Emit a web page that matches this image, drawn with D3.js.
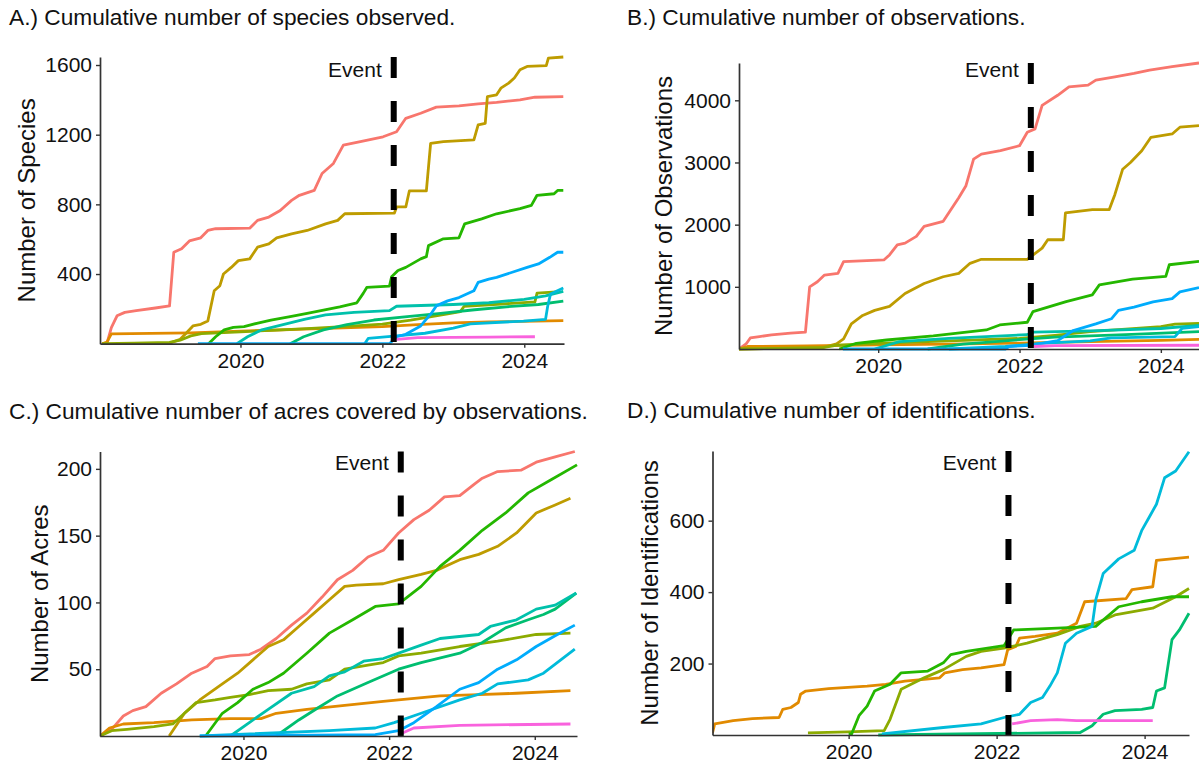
<!DOCTYPE html>
<html>
<head>
<meta charset="utf-8">
<script src="https://cdn.jsdelivr.net/npm/d3@7"></script>
<style>
  body { margin: 0; background: #fff; }
  svg { display: block; font-family: "Liberation Sans", Arial, sans-serif; }
</style>
</head>
<body>
<svg id="chart" width="1199" height="766"></svg>
<script>
// groups follow the ggplot hue palette (13 levels)
const groups = ["g01","g02","g03","g04","g05","g06","g07","g08","g09","g10","g11","g12","g13"];
const groupColors = ["#F8766D","#E18A00","#BE9C00","#8CAB00","#24B700","#00BE70","#00C1AB",
  "#00BBDA","#00ACFC","#8B93FF","#D575FE","#F962DD","#FF65AC"];

const eventYear = 2022.16;
const yearTicks = [2020, 2022, 2024];
const speciesTicks = [400, 800, 1200, 1600];
const observationTicks = [1000, 2000, 3000, 4000];
const acreTicks = [50, 100, 150, 200];
const identificationTicks = [200, 400, 600];

// [year, cumulative value]
const species = [
  ["g01", [[2018.05,0],[2018.12,5],[2018.18,92],[2018.26,160],[2018.37,180],[2018.53,190],[2018.8,205],[2019.0,217],[2019.06,525],[2019.17,545],[2019.28,590],[2019.44,608],[2019.54,650],[2019.65,660],[2020.13,663],[2020.24,708],[2020.4,727],[2020.56,765],[2020.72,823],[2020.83,852],[2021.04,880],[2021.15,977],[2021.31,1035],[2021.45,1140],[2021.69,1160],[2022.01,1188],[2022.2,1217],[2022.33,1294],[2022.54,1323],[2022.76,1358],[2023.08,1365],[2023.35,1377],[2023.61,1385],[2023.94,1400],[2024.15,1415],[2024.55,1419]]],
  ["g02", [[2018.05,0],[2018.12,10],[2018.18,56],[2019.3,62],[2020.0,72],[2021.0,85],[2022.0,98],[2022.5,110],[2023.0,120],[2023.5,125],[2024.55,132]]],
  ["g03", [[2018.6,0],[2019.0,3],[2019.15,25],[2019.22,54],[2019.33,102],[2019.44,111],[2019.54,131],[2019.63,304],[2019.71,333],[2019.76,400],[2019.87,438],[2019.97,477],[2020.13,487],[2020.24,554],[2020.4,573],[2020.51,608],[2020.72,631],[2020.94,650],[2021.2,688],[2021.37,708],[2021.47,746],[2022.17,750],[2022.2,785],[2022.33,785],[2022.38,877],[2022.62,877],[2022.68,1150],[2022.86,1160],[2023.29,1170],[2023.35,1256],[2023.45,1265],[2023.48,1419],[2023.61,1429],[2023.67,1467],[2023.78,1496],[2023.86,1525],[2023.94,1573],[2024.04,1592],[2024.31,1596],[2024.34,1640],[2024.55,1646]]],
  ["g04", [[2018.05,0],[2018.5,3],[2019.0,8],[2019.15,20],[2019.3,45],[2019.45,58],[2020.0,68],[2020.5,78],[2021.0,88],[2021.5,100],[2022.0,112],[2022.4,135],[2022.9,170],[2023.1,184],[2023.15,214],[2024.15,240],[2024.18,290],[2024.45,298]]],
  ["g05", [[2019.55,0],[2019.65,40],[2019.77,79],[2019.9,94],[2020.05,98],[2020.23,117],[2020.43,136],[2020.7,155],[2020.94,174],[2021.17,193],[2021.4,212],[2021.64,235],[2021.73,289],[2021.78,323],[2022.1,331],[2022.13,384],[2022.22,420],[2022.33,438],[2022.54,487],[2022.62,500],[2022.65,563],[2022.86,602],[2023.08,608],[2023.16,688],[2023.4,717],[2023.61,746],[2023.94,775],[2024.1,794],[2024.18,852],[2024.42,861],[2024.47,880],[2024.55,880]]],
  ["g06", [[2020.7,0],[2020.89,40],[2021.17,79],[2021.5,110],[2021.88,136],[2022.35,155],[2022.82,174],[2023.3,195],[2023.75,212],[2024.2,225],[2024.55,245]]],
  ["g07", [[2019.95,0],[2020.1,40],[2020.3,80],[2020.5,100],[2020.9,140],[2021.2,165],[2021.6,180],[2022.1,190],[2022.2,215],[2023.0,225],[2023.5,235],[2024.0,255],[2024.3,275],[2024.55,300]]],
  ["g08", [[2021.75,0],[2021.8,30],[2022.2,45],[2022.6,60],[2023.0,90],[2023.24,114],[2023.99,130],[2024.3,140],[2024.33,215],[2024.37,285],[2024.55,320]]],
  ["g09", [[2019.4,0],[2022.1,0],[2022.2,40],[2022.33,54],[2022.54,102],[2022.7,180],[2022.76,217],[2022.92,246],[2023.08,265],[2023.29,304],[2023.35,352],[2023.5,371],[2023.61,381],[2023.83,410],[2024.04,438],[2024.2,458],[2024.36,496],[2024.47,525],[2024.55,525]]],
  ["g12", [[2022.2,25],[2022.5,35],[2023.5,38],[2024.15,40]]]
];

const observations = [
  ["g01", [[2018.03,0],[2018.13,81],[2018.19,178],[2018.32,200],[2018.49,227],[2018.76,254],[2018.97,270],[2019.03,1000],[2019.14,1081],[2019.24,1189],[2019.43,1216],[2019.51,1405],[2019.84,1422],[2020.08,1432],[2020.16,1513],[2020.27,1676],[2020.38,1703],[2020.54,1811],[2020.65,1973],[2020.92,2054],[2021.03,2243],[2021.14,2432],[2021.24,2621],[2021.35,3054],[2021.46,3135],[2021.73,3189],[2022.0,3270],[2022.11,3486],[2022.22,3540],[2022.32,3919],[2022.54,4081],[2022.7,4216],[2022.97,4243],[2023.08,4324],[2023.35,4378],[2023.62,4432],[2023.84,4486],[2024.16,4540],[2024.54,4600]]],
  ["g02", [[2018.03,0],[2018.15,40],[2019.0,50],[2020.0,65],[2021.0,80],[2022.0,95],[2023.0,120],[2024.0,140],[2024.54,155]]],
  ["g03", [[2018.03,0],[2019.2,20],[2019.41,81],[2019.51,162],[2019.62,405],[2019.78,540],[2019.95,621],[2020.16,686],[2020.38,892],[2020.65,1054],[2020.92,1162],[2021.14,1216],[2021.3,1378],[2021.46,1443],[2022.11,1443],[2022.32,1622],[2022.4,1757],[2022.62,1757],[2022.65,2189],[2023.03,2243],[2023.27,2243],[2023.35,2486],[2023.46,2892],[2023.57,3000],[2023.73,3189],[2023.86,3405],[2024.16,3459],[2024.27,3567],[2024.54,3594]]],
  ["g04", [[2018.03,0],[2019.2,20],[2019.4,60],[2020.0,90],[2021.0,130],[2022.0,170],[2022.5,220],[2023.0,280],[2023.5,320],[2024.0,360],[2024.2,400],[2024.54,410]]],
  ["g05", [[2019.45,0],[2019.69,92],[2020.12,145],[2020.78,210],[2021.53,306],[2021.72,387],[2022.11,430],[2022.19,600],[2022.66,763],[2023.03,871],[2023.13,1032],[2023.6,1124],[2024.07,1167],[2024.12,1355],[2024.54,1409]]],
  ["g06", [[2020.7,0],[2021.2,80],[2022.0,150],[2022.5,190],[2023.5,230],[2024.54,280]]],
  ["g07", [[2019.95,0],[2020.3,120],[2021.0,170],[2022.1,230],[2022.2,270],[2023.0,290],[2024.0,330],[2024.54,380]]],
  ["g08", [[2021.0,0],[2021.8,40],[2022.3,90],[2023.0,130],[2023.3,180],[2024.2,200],[2024.3,330],[2024.54,360]]],
  ["g09", [[2019.5,0],[2021.8,0],[2021.85,40],[2022.15,60],[2022.27,81],[2022.54,135],[2022.76,297],[2023.08,405],[2023.3,486],[2023.4,621],[2023.62,675],[2023.89,757],[2024.16,811],[2024.27,919],[2024.54,989]]],
  ["g12", [[2022.2,40],[2022.5,55],[2024.54,60]]]
];

const acres = [
  ["g01", [[2018.03,0],[2018.19,5],[2018.35,15],[2018.48,19],[2018.66,22],[2018.87,32],[2019.08,39],[2019.29,47],[2019.5,52],[2019.61,58],[2019.82,60],[2020.08,61],[2020.24,65],[2020.45,73],[2020.66,83],[2020.87,92],[2021.08,104],[2021.29,117],[2021.5,124],[2021.71,134],[2021.92,139],[2022.13,152],[2022.34,162],[2022.55,169],[2022.76,179],[2022.97,180],[2023.18,189],[2023.28,193],[2023.49,198],[2023.81,199],[2024.02,205],[2024.28,209],[2024.55,213]]],
  ["g02", [[2018.03,0],[2018.16,6],[2018.35,9],[2018.77,10],[2019.29,12],[2019.82,13],[2020.24,13],[2020.45,17],[2020.87,20],[2021.39,23],[2021.92,26],[2022.13,27],[2022.7,30],[2023.23,31],[2023.75,32],[2024.49,34]]],
  ["g03", [[2018.98,0],[2019.19,17],[2019.4,27],[2019.71,39],[2019.92,47],[2020.13,57],[2020.34,67],[2020.55,72],[2020.76,82],[2020.97,92],[2021.18,102],[2021.39,112],[2021.55,113],[2021.92,114],[2022.13,117],[2022.44,121],[2022.65,124],[2022.97,132],[2023.23,136],[2023.49,142],[2023.75,152],[2024.02,167],[2024.28,173],[2024.49,178]]],
  ["g04", [[2018.03,0],[2018.19,4],[2018.4,5],[2018.77,7],[2019.03,9],[2019.19,17],[2019.35,25],[2019.61,27],[2019.82,29],[2020.08,31],[2020.34,34],[2020.66,35],[2020.87,39],[2021.18,42],[2021.39,50],[2021.71,53],[2021.92,55],[2022.13,60],[2022.44,62],[2022.97,67],[2023.49,71],[2024.02,76],[2024.49,77]]],
  ["g05", [[2019.48,0],[2019.71,17],[2019.92,25],[2020.13,35],[2020.34,40],[2020.55,47],[2020.87,62],[2021.18,77],[2021.5,87],[2021.81,97],[2022.13,99],[2022.44,112],[2022.7,127],[2022.97,139],[2023.28,154],[2023.6,167],[2023.91,182],[2024.23,192],[2024.58,203]]],
  ["g06", [[2020.45,0],[2020.76,12],[2021.02,21],[2021.29,30],[2021.71,40],[2022.13,50],[2022.44,55],[2022.97,62],[2023.28,70],[2023.6,81],[2023.91,87],[2024.12,91],[2024.28,95],[2024.57,107]]],
  ["g07", [[2019.82,0],[2020.08,10],[2020.34,20],[2020.66,32],[2020.97,37],[2021.18,45],[2021.39,48],[2021.65,56],[2021.92,58],[2022.18,63],[2022.44,68],[2022.7,73],[2023.23,76],[2023.39,82],[2023.75,87],[2024.02,95],[2024.28,98],[2024.57,107]]],
  ["g08", [[2019.4,0],[2021.18,4],[2021.81,6],[2022.07,10],[2022.44,17],[2022.97,27],[2023.28,32],[2023.49,39],[2023.91,42],[2024.12,47],[2024.55,65]]],
  ["g09", [[2019.4,0],[2021.81,1],[2022.13,4],[2022.34,10],[2022.65,22],[2022.97,35],[2023.23,40],[2023.49,50],[2023.75,57],[2024.02,67],[2024.28,75],[2024.55,83]]],
  ["g12", [[2022.13,1],[2022.34,6],[2022.97,8],[2024.49,9]]]
];

const identifications = [
  ["g02", [[2018.16,6],[2018.19,31],[2018.44,40],[2018.7,46],[2019.06,49],[2019.11,72],[2019.22,77],[2019.32,91],[2019.35,114],[2019.42,123],[2019.73,130],[2020.25,137],[2020.5,142],[2020.76,151],[2021.02,156],[2021.23,160],[2021.3,174],[2021.54,183],[2021.79,188],[2022.1,197],[2022.15,239],[2022.26,248],[2022.31,271],[2022.52,276],[2022.82,285],[2023.08,313],[2023.19,373],[2023.75,382],[2023.83,407],[2024.11,415],[2024.16,489],[2024.6,498]]],
  ["g04", [[2019.45,6],[2019.99,9],[2020.48,12],[2020.56,44],[2020.71,128],[2021.02,160],[2021.28,183],[2021.59,220],[2021.79,234],[2022.1,243],[2022.41,257],[2022.82,281],[2023.13,304],[2023.34,313],[2023.6,336],[2024.11,355],[2024.42,387],[2024.6,410]]],
  ["g05", [[2020.0,3],[2020.04,3],[2020.14,54],[2020.25,81],[2020.35,123],[2020.56,142],[2020.71,174],[2021.07,179],[2021.28,202],[2021.38,225],[2021.59,234],[2022.1,250],[2022.23,294],[2022.82,299],[2023.34,304],[2023.65,359],[2023.96,373],[2024.37,387],[2024.6,387]]],
  ["g06", [[2020.4,0],[2023.13,7],[2023.29,26],[2023.44,58],[2023.6,68],[2023.96,72],[2024.11,77],[2024.16,123],[2024.27,132],[2024.37,267],[2024.47,294],[2024.6,341]]],
  ["g08", [[2020.45,3],[2021.28,21],[2021.79,31],[2022.1,49],[2022.31,58],[2022.46,91],[2022.62,105],[2022.72,137],[2022.82,174],[2022.93,257],[2023.08,285],[2023.29,304],[2023.34,378],[2023.44,452],[2023.65,493],[2023.86,517],[2023.96,572],[2024.06,609],[2024.16,646],[2024.27,720],[2024.42,739],[2024.6,793]]],
  ["g12", [[2022.21,31],[2022.46,40],[2022.82,43],[2023.08,40],[2024.11,40]]]
];

const color = d3.scaleOrdinal().domain(groups).range(groupColors);

const panels = [
  { id: "a", title: "A.) Cumulative number of species observed.", yLabel: "Number of Species",
    data: species, yTicks: speciesTicks, xDomain: [2018.02, 2024.56], yDomain: [0, 1646],
    left: 100, right: 564, top: 57, bottom: 343.7, titleX: 9, titleY: 25, yLabelX: 27, eventY: 77 },
  { id: "b", title: "B.) Cumulative number of observations.", yLabel: "Number of Observations",
    data: observations, yTicks: observationTicks, xDomain: [2018.03, 2024.54], yDomain: [0, 4600],
    left: 739, right: 1199, top: 63, bottom: 349, titleX: 627, titleY: 25, yLabelX: 664, eventY: 77 },
  { id: "c", title: "C.) Cumulative number of acres covered by observations.", yLabel: "Number of Acres",
    data: acres, yTicks: acreTicks, xDomain: [2018.03, 2024.58], yDomain: [0, 213],
    left: 100, right: 577, top: 451.5, bottom: 736, titleX: 9, titleY: 419, yLabelX: 40, eventY: 470 },
  { id: "d", title: "D.) Cumulative number of identifications.", yLabel: "Number of Identifications",
    data: identifications, yTicks: identificationTicks, xDomain: [2018.16, 2024.6], yDomain: [0, 795],
    left: 712.5, right: 1189, top: 451, bottom: 735, titleX: 627, titleY: 417.5, yLabelX: 650, eventY: 470 }
];

const svg = d3.select("#chart");

panels.forEach(p => {
  const x = d3.scaleLinear().domain(p.xDomain).range([p.left, p.right]);
  const y = d3.scaleLinear().domain(p.yDomain).range([p.bottom, p.top]);

  // panel title
  svg.append("text")
    .attr("x", p.titleX).attr("y", p.titleY)
    .attr("font-size", 22.7).attr("fill", "#111")
    .text(p.title);

  svg.append("clipPath").attr("id", "clip-" + p.id)
    .append("rect")
    .attr("x", p.left).attr("y", p.top - 4)
    .attr("width", p.right - p.left + 4).attr("height", p.bottom - p.top + 6);

  const line = d3.line().x(d => x(d[0])).y(d => y(d[1]));

  svg.append("g")
    .attr("clip-path", `url(#clip-${p.id})`)
    .selectAll("path")
    .data(p.data)
    .join("path")
    .attr("d", d => line(d[1]))
    .attr("fill", "none")
    .attr("stroke", d => color(d[0]))
    .attr("stroke-width", 2.8)
    .attr("stroke-linejoin", "round");

  // event marker
  svg.append("line")
    .attr("x1", x(eventYear)).attr("x2", x(eventYear))
    .attr("y1", p.top).attr("y2", p.bottom)
    .attr("stroke", "#000").attr("stroke-width", 6)
    .attr("stroke-dasharray", "21 23");

  svg.append("text")
    .attr("x", x(eventYear) - 12).attr("y", p.eventY)
    .attr("text-anchor", "end").attr("font-size", 21).attr("fill", "#111")
    .text("Event");

  // axes
  const yAxis = svg.append("g")
    .attr("transform", `translate(${p.left},0)`)
    .call(d3.axisLeft(y).tickValues(p.yTicks).tickFormat(d3.format("d"))
      .tickSize(4).tickPadding(4).tickSizeOuter(0));
  const xAxis = svg.append("g")
    .attr("transform", `translate(0,${p.bottom})`)
    .call(d3.axisBottom(x).tickValues(yearTicks).tickFormat(d3.format("d"))
      .tickSize(4).tickPadding(5).tickSizeOuter(0));

  [xAxis, yAxis].forEach(g => {
    g.select(".domain").attr("stroke", "#333").attr("stroke-width", 1.7);
    g.selectAll(".tick line").attr("stroke", "#333").attr("stroke-width", 1.4);
    g.selectAll(".tick text").attr("font-size", 21).attr("fill", "#111")
      .attr("font-family", "Liberation Sans, Arial, sans-serif");
  });

  svg.append("text")
    .attr("transform", `translate(${p.yLabelX},${(p.top + p.bottom) / 2}) rotate(-90)`)
    .attr("text-anchor", "middle").attr("dy", "0.35em")
    .attr("font-size", 24).attr("fill", "#111")
    .text(p.yLabel);
});
</script>
</body>
</html>
